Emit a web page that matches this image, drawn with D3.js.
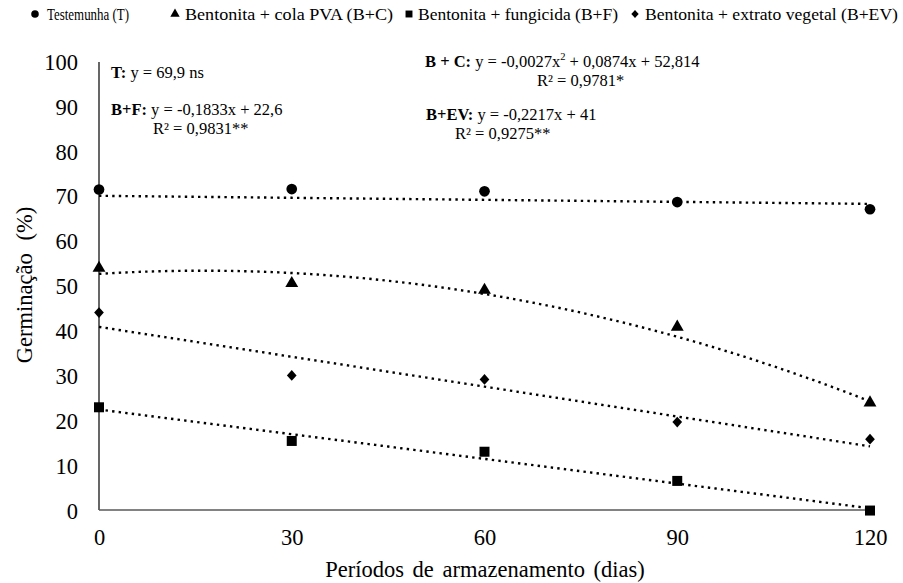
<!DOCTYPE html>
<html>
<head>
<meta charset="utf-8">
<script src="https://cdn.jsdelivr.net/npm/d3@7"></script>
<style>
  html, body { margin: 0; padding: 0; background: #fff; }
</style>
</head>
<body>
<svg id="chart" width="903" height="583"></svg>
<script>
// Storage periods (days) and germination (%) per treatment
const days = [0, 30, 60, 90, 120];
const testemunha = [71.6, 71.7, 71.2, 68.8, 67.2];
const bentonitaCola = [54.1, 50.7, 49.2, 41.0, 24.1];
const bentonitaFungicida = [23.1, 15.6, 13.2, 6.7, 0.1];
const bentonitaExtrato = [44.2, 30.2, 29.3, 19.8, 16.0];

// Trend coefficients [c, b, a] for y = a·x² + b·x + c
const trendT = [70.2, -0.015, 0];
const trendBC = [52.814, 0.0874, -0.0027];
const trendBF = [22.6, -0.1833, 0];
const trendBEV = [41, -0.2217, 0];

const xTicks = [0, 30, 60, 90, 120];
const yTicks = [0, 10, 20, 30, 40, 50, 60, 70, 80, 90, 100];

const legendLabels = ["Testemunha (T)", "Bentonita + cola PVA (B+C)", "Bentonita + fungicida (B+F)", "Bentonita + extrato vegetal (B+EV)"];

const FONT = "Liberation Serif";

const svg = d3.select("#chart");
const x = d3.scaleLinear().domain([0, 120]).range([99, 870]);
const y = d3.scaleLinear().domain([0, 100]).range([511, 62]);

// Axes
const yAxis = svg.append("g").attr("transform", `translate(${x(0)},0)`)
  .call(d3.axisLeft(y).tickValues(yTicks).tickSize(0).tickPadding(21));
yAxis.attr("font-family", FONT).attr("font-size", 22.5);
yAxis.select(".domain").attr("stroke", "#000").attr("stroke-width", 1.2).attr("d", `M0,${y(100)}V${y(0) - 1}`);
yAxis.selectAll("text").attr("fill", "#000");

const xAxis = svg.append("g").attr("transform", `translate(0,${y(0) - 1})`)
  .call(d3.axisBottom(x).tickValues(xTicks).tickSize(0).tickPadding(19));
xAxis.attr("font-family", FONT).attr("font-size", 22.5);
xAxis.select(".domain").attr("stroke", "#595959").attr("stroke-width", 1.3).attr("d", `M${x(0)},0H${x(120) + 2}`);
xAxis.selectAll("text").attr("fill", "#000");

// Axis titles
svg.append("text")
  .attr("x", 485).attr("y", 577).attr("text-anchor", "middle")
  .attr("font-family", FONT).attr("font-size", 22.5).attr("word-spacing", 3)
  .text("Períodos de armazenamento (dias)");
svg.append("text")
  .attr("transform", "translate(32,285) rotate(-90)")
  .attr("text-anchor", "middle")
  .attr("font-family", FONT).attr("font-size", 22.5).attr("word-spacing", 7)
  .text("Germinação (%)");

// Trend curves
const poly = c => t => c[0] + c[1] * t + c[2] * t * t;
const grid = d3.range(0, 120.5, 1);
const line = d3.line().x(d => x(d[0])).y(d => y(d[1]));
[trendT, trendBC, trendBF, trendBEV].forEach(c => {
  const f = poly(c);
  svg.append("path")
    .attr("d", line(grid.map(t => [t, f(t)])))
    .attr("fill", "none").attr("stroke", "#000")
    .attr("stroke-width", 2.4).attr("stroke-dasharray", "2.4,4.2");
});

// Rhombus marker a little taller than wide
const rhombus = {
  draw(ctx, size) {
    const h = Math.sqrt(size / 2) * 1.05, w = Math.sqrt(size / 2) * 0.95;
    ctx.moveTo(0, -h); ctx.lineTo(w, 0); ctx.lineTo(0, h); ctx.lineTo(-w, 0); ctx.closePath();
  }
};

// Markers
const symbols = [d3.symbolCircle, d3.symbolTriangle, d3.symbolSquare, rhombus];
const sizes = [90, 72, 100, 52];
const seriesList = [testemunha, bentonitaCola, bentonitaFungicida, bentonitaExtrato];
seriesList.forEach((vals, i) => {
  svg.append("g").selectAll("path")
    .data(vals.map((v, k) => [days[k], v]))
    .join("path")
    .attr("transform", d => `translate(${x(d[0])},${y(d[1])})`)
    .attr("d", d3.symbol(symbols[i], sizes[i]))
    .attr("fill", "#000");
});

// Legend: each label squeezed horizontally to its slot
const legendItems = [
  { sx: 35, tx: 47, w: 82 },
  { sx: 175, tx: 185, w: 208 },
  { sx: 409, tx: 418, w: 200 },
  { sx: 635, tx: 645, w: 253 }
];
const legendSizes = [45, 38, 48, 30];
legendItems.forEach((it, i) => {
  svg.append("path")
    .attr("transform", `translate(${it.sx},14)`)
    .attr("d", d3.symbol(symbols[i], legendSizes[i]))
    .attr("fill", "#000");
  svg.append("text")
    .attr("x", it.tx).attr("y", 19.5)
    .attr("font-family", FONT).attr("font-size", 17)
    .attr("textLength", it.w).attr("lengthAdjust", "spacingAndGlyphs")
    .text(legendLabels[i]);
});

// Regression equations
function eq(xp, yp, bold, rest) {
  const t = svg.append("text").attr("x", xp).attr("y", yp)
    .attr("font-family", FONT).attr("font-size", 16.5);
  t.append("tspan").attr("font-weight", "bold").text(bold);
  rest.forEach(r => {
    const s = t.append("tspan").text(r.t);
    if (r.sup) s.attr("font-size", 10.5).attr("dy", -7);
    if (r.down) s.attr("dy", 7);
  });
  return t;
}
function plain(xp, yp, s) {
  svg.append("text").attr("x", xp).attr("y", yp)
    .attr("font-family", FONT).attr("font-size", 16.5).text(s);
}
eq(111, 78, "T:", [{ t: " y = 69,9 ns" }]);
eq(111, 115, "B+F:", [{ t: " y = -0,1833x + 22,6" }]);
plain(153, 134, "R² = 0,9831**");
eq(425, 67, "B + C:", [{ t: " y = -0,0027x" }, { t: "2", sup: true }, { t: " + 0,0874x + 52,814", down: true }]);
plain(537, 86, "R² = 0,9781*");
eq(426, 120, "B+EV:", [{ t: " y = -0,2217x + 41" }]);
plain(455, 139, "R² = 0,9275**");
</script>
</body>
</html>
